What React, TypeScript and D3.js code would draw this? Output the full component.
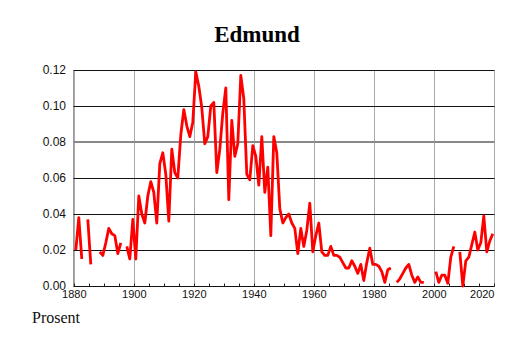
import React from "react";
import * as d3 from "d3";

const years: number[] = d3.range(1880, 2020);
const values: (number | null)[] = [
  // 1880-1889
  0.020, 0.038, 0.015, null, 0.037, 0.012, null, null, 0.019, 0.017,
  // 1890-1899
  0.024, 0.032, 0.029, 0.028, 0.018, 0.024, null, 0.022, 0.015, 0.037,
  // 1900-1909
  0.015, 0.050, 0.040, 0.035, 0.050, 0.058, 0.052, 0.035, 0.068, 0.074,
  // 1910-1919
  0.062, 0.036, 0.076, 0.063, 0.060, 0.084, 0.098, 0.089, 0.083, 0.091,
  // 1920-1929
  0.119, 0.111, 0.099, 0.079, 0.083, 0.100, 0.102, 0.063, 0.076, 0.096,
  // 1930-1939
  0.110, 0.048, 0.092, 0.072, 0.079, 0.117, 0.104, 0.062, 0.059, 0.078,
  // 1940-1949
  0.072, 0.056, 0.083, 0.052, 0.066, 0.028, 0.083, 0.074, 0.043, 0.035,
  // 1950-1959
  0.038, 0.040, 0.035, 0.032, 0.018, 0.032, 0.022, 0.031, 0.046, 0.019,
  // 1960-1969
  0.028, 0.035, 0.019, 0.017, 0.017, 0.022, 0.017, 0.017, 0.016, 0.013,
  // 1970-1979
  0.010, 0.010, 0.014, 0.011, 0.007, 0.012, 0.003, 0.013, 0.021, 0.012,
  // 1980-1989
  0.012, 0.011, 0.008, 0.002, 0.009, 0.010, null, 0.002, 0.004, 0.007,
  // 1990-1999
  0.010, 0.012, 0.006, 0.002, 0.005, 0.002, 0.002, null, null, null,
  // 2000-2009
  0.008, 0.002, 0.006, 0.006, 0.0015, 0.016, 0.022, null, 0.019, 0.000,
  // 2010-2019
  0.014, 0.016, 0.023, 0.030, 0.020, 0.024, 0.039, 0.019, 0.025, 0.029,
];

const yTicks: number[] = [0, 0.02, 0.04, 0.06, 0.08, 0.1, 0.12];
const xTicks: number[] = [1880, 1900, 1920, 1940, 1960, 1980, 2000, 2020];
const minorTicks: number[] = d3.range(1880, 2021, 5);
const title = "Edmund";
const yLabel = "Prosent";

const crisp = (v: number) => Math.round(v) + 0.5;

export default function App() {
  const W = 514;
  const H = 343;
  const x = d3.scaleLinear().domain([1880, 2020]).range([74.3, 494.3]);
  const y = d3.scaleLinear().domain([0, 0.12]).range([286, 70]);
  const xLeft = crisp(x(1879.4));
  const xRight = crisp(x(2019.75));
  const yTop = crisp(y(0.12));
  const yBot = crisp(y(0));

  const data = years.map((yr, i) => ({ yr, v: values[i] }));
  const line = d3
    .line<{ yr: number; v: number | null }>()
    .defined((d) => d.v != null)
    .x((d) => x(d.yr + 0.5))
    .y((d) => y(d.v as number));

  const sans = "'Liberation Sans', Arial, sans-serif";
  const serif = "'Liberation Serif', 'Times New Roman', serif";

  return (
    <svg
      width={W}
      height={H}
      style={{ position: "absolute", left: 0, top: 0, background: "#fff" }}
    >
      <text
        x={257}
        y={42}
        textAnchor="middle"
        fontFamily={serif}
        fontWeight="bold"
        fontSize={23}
      >
        {title}
      </text>

      {/* vertical gridlines */}
      {xTicks.map((t) => (
        <line
          key={"vg" + t}
          x1={crisp(x(t))}
          x2={crisp(x(t))}
          y1={yTop}
          y2={yBot}
          stroke="#aaa"
          strokeWidth={1}
        />
      ))}
      <line x1={xLeft} x2={xLeft} y1={yTop} y2={yBot} stroke="#999" strokeWidth={1} />
      <line x1={xRight} x2={xRight} y1={yTop} y2={yBot} stroke="#aaa" strokeWidth={1} />

      {/* horizontal gridlines */}
      {yTicks.map((t) => {
        const is08 = Math.abs(t - 0.08) < 1e-9;
        const yy = is08 ? Math.round(y(t)) : crisp(y(t));
        return (
          <line
            key={"hg" + t}
            x1={xLeft}
            x2={xRight}
            y1={yy}
            y2={yy}
            stroke={is08 ? "#888" : "#111"}
            strokeWidth={is08 ? 2 : 1}
          />
        );
      })}

      {/* minor ticks */}
      {minorTicks.map((t) => (
        <line
          key={"mt" + t}
          x1={crisp(x(t))}
          x2={crisp(x(t))}
          y1={yBot}
          y2={yBot - 3}
          stroke="#222"
          strokeWidth={1}
        />
      ))}

      {/* y tick labels */}
      {yTicks.map((t) => (
        <text
          key={"yl" + t}
          x={66}
          y={y(t)}
          dy="0.35em"
          textAnchor="end"
          fontFamily={sans}
          fontSize={12}
          fill="#111"
        >
          {t.toFixed(2)}
        </text>
      ))}

      {/* x tick labels */}
      {xTicks.map((t, i) => (
        <text
          key={"xl" + t}
          x={i === xTicks.length - 1 ? xRight : x(t)}
          y={298}
          textAnchor={i === xTicks.length - 1 ? "end" : "middle"}
          fontFamily={sans}
          fontSize={11}
          fill="#111"
        >
          {t}
        </text>
      ))}

      <path
        d={line(data) || ""}
        fill="none"
        stroke="#ff0000"
        strokeWidth={2.8}
        strokeLinejoin="round"
        strokeLinecap="butt"
      />

      <text x={32} y={323} fontFamily={serif} fontSize={16} fill="#111">
        {yLabel}
      </text>
    </svg>
  );
}
